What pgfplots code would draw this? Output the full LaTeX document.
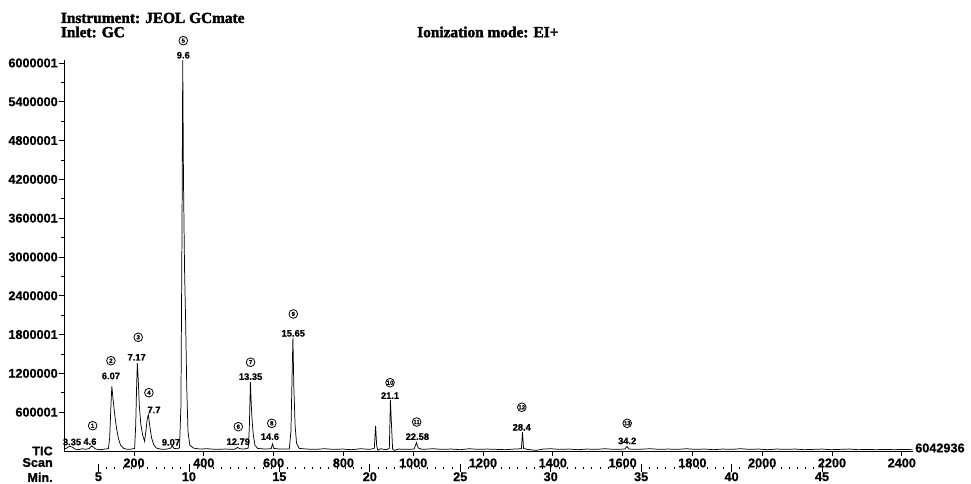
\documentclass[border=0pt]{standalone}
\usepackage{pgfplots}
\pgfplotsset{compat=1.18}
\usepackage{fontspec}
\setmainfont{Liberation Serif}
\setsansfont{Liberation Sans}
\newfontfamily\ttlfont[FakeBold=2.2]{Liberation Serif Bold}
\newfontfamily\tkfont[FakeBold=0.8]{Liberation Sans Bold}
\newcommand{\tk}{\fontsize{9.5}{10}\selectfont\tkfont}
\newcommand{\pk}{\fontsize{7}{7}\selectfont\tkfont}
\newcommand{\ttl}{\fontsize{11.5}{12}\selectfont\ttlfont}
\tikzset{cn/.style={circle,draw,line width=0.6pt,inner sep=0pt,minimum size=6.5pt,font=\fontsize{4.5}{4.5}\selectfont\tkfont},
 pl/.style={font=\pk,inner sep=0pt}}
\begin{document}
\begin{tikzpicture}
\path[use as bounding box] (0,0) rectangle (728.25pt,363pt);
\begin{axis}[
 at={(48pt,24.75pt)}, anchor=south west,
 scale only axis, width=636.75pt, height=293.1pt,
 xmin=3.0956, xmax=50.028, ymin=0, ymax=6042936,
 axis lines*=left,
 axis line style={line width=0.6pt},
 xtick={6.965,10.824,14.682,18.541,22.399,26.258,30.116,33.975,37.833,41.692,45.550,49.409},
 xticklabels={200,400,600,800,1000,1200,1400,1600,1800,2000,2200,2400},
 xticklabel style={font=\tk,inner sep=0pt,yshift=-1.4pt},
 ytick={600000,1200000,1800000,2400000,3000000,3600000,4200000,4800000,5400000,6000000},
 yticklabels={600001,1200000,1800001,2400000,3000000,3600001,4200000,4800001,5400000,6000001},
 yticklabel style={font=\tk,inner sep=0.5pt},
 scaled y ticks=false,
 minor y tick num=1,
 tick align=outside,
 major tick length=4pt,
 minor tick length=2pt,
 tick style={black,line width=0.5pt},
 clip=false,
]
\addplot[black,line width=0.55pt] coordinates {
(3.10,30000) (3.25,45000) (3.40,75000) (3.55,60000) (3.70,30000) (3.90,20000) (4.10,35000) (4.30,25000) (4.50,40000) (4.62,80000) (4.72,60000) (4.85,30000) (5.10,20000) (5.35,30000) (5.55,35000) (5.62,200000) (5.69,700000) (5.74,1000000) (5.80,820000) (5.90,560000) (6.00,350000) (6.10,200000) (6.22,90000) (6.40,40000) (6.60,25000) (6.85,30000) (7.00,40000) (7.06,400000) (7.11,1000000) (7.15,1360000) (7.20,1100000) (7.26,700000) (7.34,420000) (7.44,250000) (7.55,150000) (7.62,300000) (7.70,500000) (7.76,560000) (7.84,380000) (7.94,200000) (8.05,100000) (8.20,45000) (8.50,25000) (8.80,30000) (9.00,45000) (9.08,80000) (9.18,40000) (9.35,35000) (9.48,50000) (9.56,700000) (9.62,3500000) (9.66,6042936) (9.70,4200000) (9.76,2800000) (9.82,2000000) (9.88,1000000) (9.95,300000) (10.05,90000) (10.25,45000) (10.6,30000) (11.0,35000) (11.5,25000) (12.0,30000) (12.5,25000) (12.70,55000) (12.80,35000) (13.05,30000) (13.28,45000) (13.34,350000) (13.40,1070000) (13.45,700000) (13.50,450000) (13.56,250000) (13.65,90000) (13.80,40000) (14.2,30000) (14.55,35000) (14.62,110000) (14.70,40000) (15.0,30000) (15.55,30000) (15.64,300000) (15.70,1100000) (15.75,1750000) (15.80,1000000) (15.87,400000) (15.95,120000) (16.10,40000) (16.5,30000) (17.0,25000) (17.5,35000) (18.0,25000) (18.5,30000) (19.0,20000) (19.5,35000) (20.0,25000) (20.25,40000) (20.32,390000) (20.38,80000) (20.45,10000) (20.6,35000) (20.9,20000) (21.08,40000) (21.14,790000) (21.20,400000) (21.26,30000) (21.35,10000) (21.6,30000) (22.0,25000) (22.45,30000) (22.58,130000) (22.68,45000) (22.9,25000) (23.5,35000) (24.0,25000) (24.5,30000) (25.0,20000) (25.5,35000) (26.0,25000) (26.5,30000) (27.0,25000) (27.5,20000) (28.0,30000) (28.38,35000) (28.44,290000) (28.50,40000) (28.7,25000) (29.2,10000) (29.6,30000) (30.0,35000) (30.5,25000) (31.0,30000) (31.5,20000) (32.0,30000) (32.5,25000) (33.0,35000) (33.5,25000) (34.10,30000) (34.22,70000) (34.32,30000) (34.8,25000) (35.5,35000) (36.0,25000) (36.5,30000) (37.0,25000) (37.5,35000) (38.0,25000) (38.5,30000) (39.0,20000) (39.5,30000) (40.0,25000) (40.5,35000) (41.0,25000) (41.5,30000) (42.0,20000) (42.5,30000) (43.0,25000) (43.5,30000) (44.0,20000) (44.5,25000) (45.0,30000) (45.5,20000) (46.0,25000) (46.5,30000) (47.0,20000) (47.5,25000) (48.0,20000) (48.5,25000) (49.0,20000) (49.5,25000) (50.0,20000)
};
% retention time labels
\node[pl] at (axis cs:3.54,139000) {3.35};
\node[pl] at (axis cs:4.53,144000) {4.6};
\node[pl] at (axis cs:5.69,1160000) {6.07};
\node[pl] at (axis cs:7.11,1449000) {7.17};
\node[pl] at (axis cs:8.07,634000) {7.7};
\node[pl] at (axis cs:9.01,134000) {9.07};
\node[pl] at (axis cs:9.69,6120000) {9.6};
\node[pl] at (axis cs:12.73,144000) {12.79};
\node[pl] at (axis cs:13.41,1149000) {13.35};
\node[pl] at (axis cs:14.48,221000) {14.6};
\node[pl] at (axis cs:15.77,1820000) {15.65};
\node[pl] at (axis cs:21.12,856000) {21.1};
\node[pl] at (axis cs:22.63,221000) {22.58};
\node[pl] at (axis cs:28.40,366000) {28.4};
\node[pl] at (axis cs:34.23,155000) {34.2};
% peak numbers
\node[cn] at (axis cs:4.68,391000) {1};
\node[cn] at (axis cs:5.69,1396000) {2};
\node[cn] at (axis cs:7.20,1758000) {3};
\node[cn] at (axis cs:7.79,902000) {4};
\node[cn] at (axis cs:9.69,6345000) {5};
\node[cn] at (axis cs:12.73,376000) {6};
\node[cn] at (axis cs:13.41,1372000) {7};
\node[cn] at (axis cs:14.58,428000) {8};
\node[cn] at (axis cs:15.77,2119000) {9};
\node[cn] at (axis cs:21.12,1056000) {10};
\node[cn] at (axis cs:22.59,448000) {11};
\node[cn] at (axis cs:28.40,676000) {12};
\node[cn] at (axis cs:34.23,428000) {13};
\end{axis}
\begin{axis}[
 at={(48pt,12pt)}, anchor=south west,
 scale only axis, width=636.75pt, height=10pt,
 xmin=3.0956, xmax=50.028, ymin=0, ymax=1,
 axis x line*=bottom, axis y line=none,
 x axis line style={draw=none},
 xtick={5,10,15,20,25,30,35,40,45},
 xticklabels={5,10,15,20,25,30,35,40,45},
 minor x tick num=10,
 xtick align=center,
 major tick length=6pt,
 minor tick length=1.5pt,
 tick style={black,line width=0.6pt},
 xticklabel style={font=\tk,inner sep=0pt,yshift=0pt},
 ytick=\empty,
]
\addplot[draw=none] coordinates {(10,0.5)};
\end{axis}
\node[anchor=west,font=\ttl,inner sep=0pt] at (45.5pt,349.5pt) {Instrument: JEOL GCmate};
\node[anchor=west,font=\ttl,inner sep=0pt] at (45.5pt,339pt) {Inlet: GC};
\node[anchor=west,font=\ttl,inner sep=0pt] at (312.75pt,339pt) {Ionization mode: EI+};
\node[anchor=east,font=\tk,inner sep=0pt] at (39.75pt,24.75pt) {TIC};
\node[anchor=east,font=\tk,inner sep=0pt] at (39.75pt,16.1pt) {Scan};
\node[anchor=east,font=\tk,inner sep=0pt] at (39.75pt,5pt) {Min.};
\node[anchor=west,font=\tk,inner sep=0pt] at (686.25pt,27pt) {6042936};
\end{tikzpicture}
\end{document}
